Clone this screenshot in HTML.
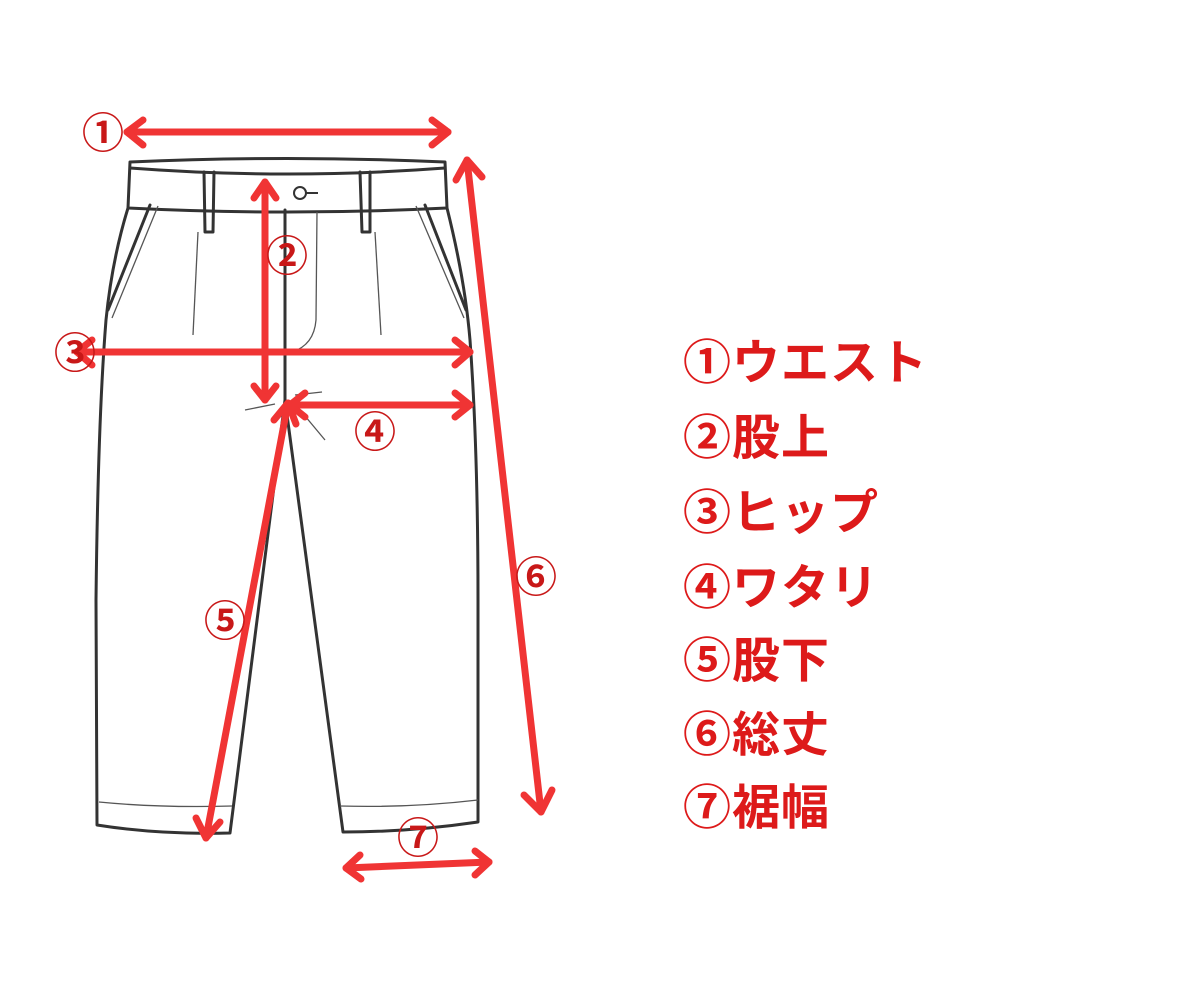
<!DOCTYPE html>
<html><head><meta charset="utf-8"><style>
html,body{margin:0;padding:0;background:#fff;}
.wrap{position:relative;width:1200px;height:1000px;overflow:hidden;}
.leg{position:absolute;left:683px;font-family:"Liberation Sans","Noto Sans CJK JP",sans-serif;font-weight:bold;font-size:48px;color:#dd1a1a;line-height:1;white-space:nowrap;letter-spacing:1px;}
</style></head><body><div class="wrap">
<svg width="1200" height="1000" style="position:absolute;left:0;top:0">
<g fill="none" stroke="#333" stroke-width="3" stroke-linejoin="round" stroke-linecap="round">
<path d="M130,162 Q287,155 445,162 L447,208 Q287,216 128,208 Z"/>
<path d="M130,168 Q287,180 445,168"/>
<path d="M128,208 Q112,260 106,320 Q98,420 96,600 L97,825 Q160,835 230,833 L285,400"/>
<path d="M447,208 Q465,280 470,340 Q478,450 478,600 L478,822 Q410,832 343,832 L285,400"/>
<path d="M285,210 L285,400"/>
<path d="M204,172 L205,232 L213,232 L214,172"/>
<path d="M360,172 L362,232 L370,232 L370,172"/>
<path d="M150,205 L108,310"/>
<path d="M425,205 L466,310"/>
</g>
<g fill="none" stroke="#555" stroke-width="1.3">
<path d="M158,206 L112,318"/><path d="M416,206 L464,318"/>
<path d="M198,232 L193,335"/><path d="M375,232 L381,335"/>
<path d="M317,212 L316,320 Q314,345 292,352"/>
<path d="M99,802 Q160,808 232,806"/><path d="M340,806 Q410,808 478,800"/>
<path d="M245,410 L275,404"/><path d="M295,395 L322,392"/><path d="M300,410 L325,440"/>
</g>
<circle cx="300" cy="193" r="6" fill="none" stroke="#333" stroke-width="2"/>
<path d="M306,193 L318,193" stroke="#333" stroke-width="2"/>
<g stroke="#f03434" stroke-width="7" stroke-linecap="round" fill="none" stroke-linejoin="round">
<path d="M127,132 L448,132"/><path d="M143,120 L127,132 L143,145"/><path d="M432,120 L448,132 L432,145"/>
<path d="M467,160 L541,812"/><path d="M456,180 L467,160 L482,177"/><path d="M524,795 L541,812 L552,790"/>
<path d="M265,182 L265,400"/><path d="M254,198 L265,182 L276,198"/><path d="M254,386 L265,400 L276,386"/>
<path d="M77,352 L470,352"/><path d="M92,340 L77,352 L92,365"/><path d="M455,340 L470,352 L455,365"/>
<path d="M290,405 L470,405"/><path d="M305,393 L290,405 L305,417"/><path d="M455,393 L470,405 L455,417"/>
<path d="M288,403 L206,838"/><path d="M274,420 L288,403 L296,424"/><path d="M196,818 L206,838 L220,822"/>
<path d="M346,868 L489,862"/><path d="M360,855 L346,868 L361,879"/><path d="M475,851 L489,862 L475,875"/>
</g>
<g font-family="Liberation Sans,'Noto Sans CJK JP',sans-serif" font-size="42" font-weight="bold" fill="#c81818" text-anchor="middle">
<text x="103" y="148">①</text><text x="287" y="271">②</text><text x="75" y="368">③</text>
<text x="375" y="447">④</text><text x="225" y="636">⑤</text><text x="536" y="592">⑥</text><text x="418" y="853">⑦</text>
</g>
</svg>
<div class="leg" style="top:340px">①ウエスト</div>
<div class="leg" style="top:415px">②股上</div>
<div class="leg" style="top:490px">③ヒップ</div>
<div class="leg" style="top:565px">④ワタリ</div>
<div class="leg" style="top:638px">⑤股下</div>
<div class="leg" style="top:712px">⑥総丈</div>
<div class="leg" style="top:785px">⑦裾幅</div>
</div></body></html>
